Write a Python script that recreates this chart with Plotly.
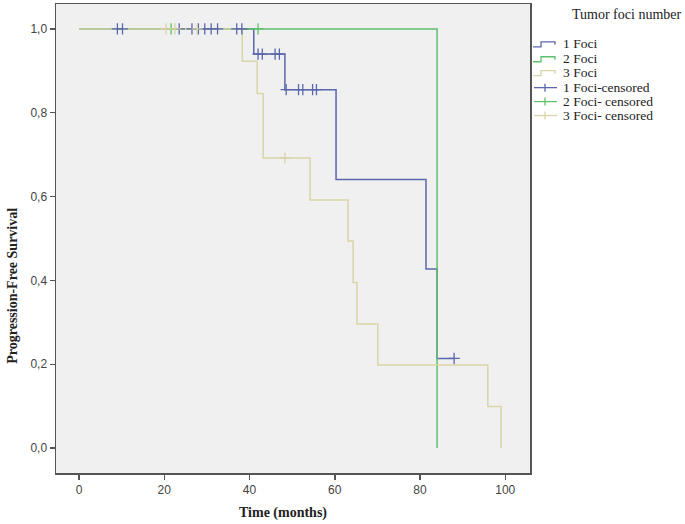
import plotly.graph_objects as go

# ---------------- data ----------------
# 1 Foci
foci1_time = [0, 41.0, 48.3, 60.3, 81.4, 84.0, 88.0]
foci1_surv = [1.0, 0.94, 0.855, 0.641, 0.427, 0.214, 0.214]
foci1_cens_time = [9.0, 10.2, 23.5, 26.5, 28.0, 29.5, 31.0, 32.5, 37.0, 38.2,
                   42.0, 43.0, 46.0, 47.0, 48.6, 51.5, 52.5, 54.8, 55.7, 88.0]
foci1_cens_surv = [1.0, 1.0, 1.0, 1.0, 1.0, 1.0, 1.0, 1.0, 1.0, 1.0,
                   0.94, 0.94, 0.94, 0.94, 0.855, 0.855, 0.855, 0.855, 0.855, 0.214]

# 2 Foci
foci2_time = [0, 84.0]
foci2_surv = [1.0, 0.0]
foci2_cens_time = [21.6, 42.0]
foci2_cens_surv = [1.0, 1.0]

# 3 Foci
foci3_time = [0, 38.3, 41.8, 43.2, 54.2, 63.1, 64.3, 65.2, 70.1, 95.9, 99.0]
foci3_surv = [1.0, 0.923, 0.846, 0.692, 0.592, 0.494, 0.395, 0.296, 0.198, 0.099, 0.0]
foci3_cens_time = [20.4, 22.5, 27.7, 48.3]
foci3_cens_surv = [1.0, 1.0, 1.0, 0.692]

x_tick_vals = [0, 20, 40, 60, 80, 100]
x_tick_text = ["0", "20", "40", "60", "80", "100"]
y_tick_vals = [0.0, 0.2, 0.4, 0.6, 0.8, 1.0]
y_tick_text = ["0,0", "0,2", "0,4", "0,6", "0,8", "1,0"]

legend_title = "Tumor foci number"
legend_labels = ["1 Foci", "2 Foci", "3 Foci",
                 "1 Foci-censored", "2 Foci- censored", "3 Foci- censored"]

# ---------------- styles ----------------
C_BLUE = "#5b67ad"
C_GREEN = "#5fbf6a"
C_YEL = "#d8d5a6"
colors = [C_BLUE, C_GREEN, C_YEL]

fig = go.Figure()

groups = [
    (foci1_time, foci1_surv, foci1_cens_time, foci1_cens_surv),
    (foci2_time, foci2_surv, foci2_cens_time, foci2_cens_surv),
    (foci3_time, foci3_surv, foci3_cens_time, foci3_cens_surv),
]

for (t, s, ct, cs), col in zip(groups, colors):
    fig.add_trace(go.Scatter(x=t, y=s, mode="lines", line=dict(color=col, width=1.5, shape="hv"),
                             showlegend=False, hoverinfo="skip"))
for (t, s, ct, cs), col in zip(groups, colors):
    fig.add_trace(go.Scatter(x=ct, y=cs, mode="markers",
                             marker=dict(symbol="cross-thin", size=8, color=col,
                                         line=dict(color=col, width=1.3)),
                             showlegend=False, hoverinfo="skip"))

# plot area in pixels
L, R, T, B = 56, 530, 2, 473
W, H = R - L, B - T


def px(xp):
    return (xp - L) / W


def py(yp):
    return (B - yp) / H


annotations = []
shapes = []

# legend title
annotations.append(dict(x=px(683), y=py(13), xref="paper", yref="paper", text=legend_title,
                        showarrow=False, xanchor="right", yanchor="middle",
                        font=dict(family="Liberation Serif", size=14, color="#222")))
entry_y = [42, 57, 71, 86, 100, 114]
for i, (lab, ey) in enumerate(zip(legend_labels, entry_y)):
    col = colors[i % 3]
    annotations.append(dict(x=px(561), y=py(ey), xref="paper", yref="paper", text=lab,
                            showarrow=False, xanchor="left", yanchor="middle",
                            font=dict(family="Liberation Serif", size=13.5, color="#222")))
    if i < 3:
        path = "M {} {} L {} {} L {} {} L {} {} L {} {}".format(
            px(533), py(ey + 3), px(541), py(ey + 3), px(541), py(ey - 2),
            px(555), py(ey - 2), px(555), py(ey + 1))
        shapes.append(dict(type="path", xref="paper", yref="paper", path=path,
                           line=dict(color=col, width=1.3)))
    else:
        shapes.append(dict(type="line", xref="paper", yref="paper",
                           x0=px(534), x1=px(557), y0=py(ey), y1=py(ey),
                           line=dict(color=col, width=1.3)))
        shapes.append(dict(type="line", xref="paper", yref="paper",
                           x0=px(545), x1=px(545), y0=py(ey - 4), y1=py(ey + 4),
                           line=dict(color=col, width=1.3)))

# axis titles
annotations.append(dict(x=px(283), y=py(513), xref="paper", yref="paper", text="<b>Time (months)</b>",
                        showarrow=False, xanchor="center", yanchor="middle",
                        font=dict(family="Liberation Serif", size=14, color="#222")))
annotations.append(dict(x=px(13), y=py(285), xref="paper", yref="paper",
                        text="<b>Progression-Free Survival</b>", textangle=-90,
                        showarrow=False, xanchor="center", yanchor="middle",
                        font=dict(family="Liberation Serif", size=14, color="#222")))

fig.update_layout(
    width=685, height=524,
    margin=dict(l=L, r=685 - R, t=T, b=524 - B),
    paper_bgcolor="white",
    plot_bgcolor="#f0f0f0",
    showlegend=False,
    annotations=annotations,
    shapes=shapes,
    xaxis=dict(range=[-5.4, 105.8], tickvals=x_tick_vals, ticktext=x_tick_text,
               showgrid=False, zeroline=False, showline=True, mirror=True,
               linecolor="#555", linewidth=1.5, ticks="outside", ticklen=5,
               tickcolor="#555", tickwidth=1.5,
               tickfont=dict(family="Liberation Sans", size=12, color="#444")),
    yaxis=dict(range=[-0.0594, 1.0594], tickvals=y_tick_vals, ticktext=y_tick_text,
               showgrid=False, zeroline=False, showline=True, mirror=True,
               linecolor="#555", linewidth=1.5, ticks="outside", ticklen=5,
               tickcolor="#555", tickwidth=1.5,
               tickfont=dict(family="Liberation Sans", size=12, color="#444")),
)

fig.write_html("out.html",
               config={"displayModeBar": False, "staticPlot": True},
               post_script="document.body.style.margin='0px'; document.body.style.overflow='hidden';")
